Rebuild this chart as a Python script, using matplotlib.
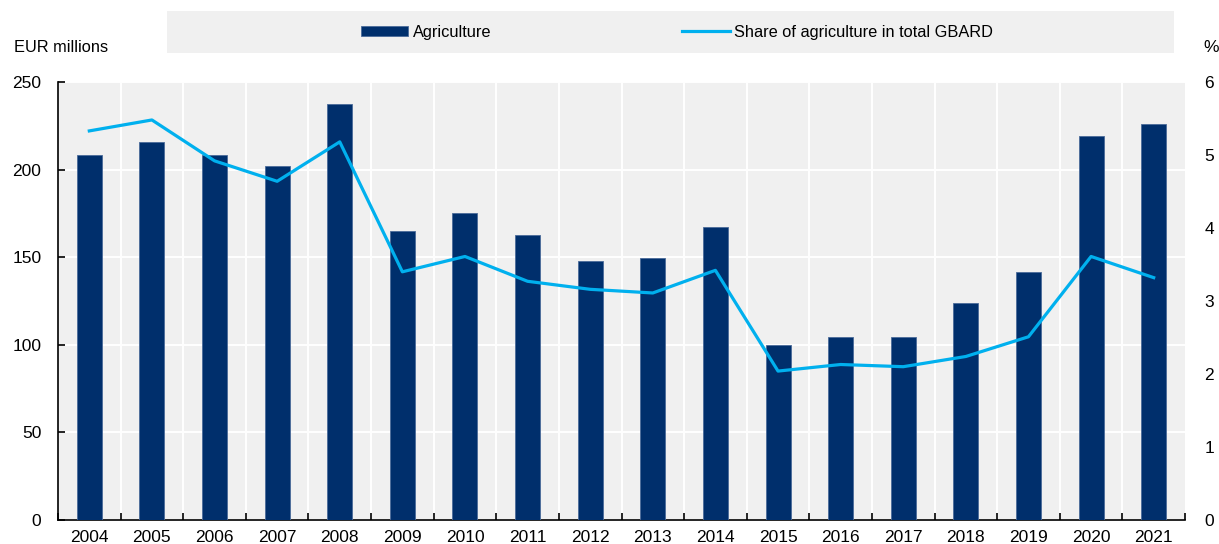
import matplotlib
matplotlib.use("Agg")
import matplotlib.pyplot as plt
from matplotlib.patches import Rectangle
import numpy as np

plt.rcParams["font.family"] = ["Liberation Sans", "DejaVu Sans"]

years = ["2004", "2005", "2006", "2007", "2008", "2009", "2010", "2011", "2012",
         "2013", "2014", "2015", "2016", "2017", "2018", "2019", "2020", "2021"]
agriculture = [208.3, 215.8, 208.3, 202.0, 237.4, 165.0, 175.2, 162.7, 147.8,
               149.4, 167.2, 99.7, 104.6, 104.2, 123.8, 141.6, 219.2, 225.9]
share_pct = [5.33, 5.48, 4.92, 4.64, 5.18, 3.40, 3.61, 3.27, 3.16,
             3.11, 3.42, 2.04, 2.13, 2.10, 2.24, 2.51, 3.61, 3.32]
left_ticks = [0, 50, 100, 150, 200, 250]
right_ticks = [0, 1, 2, 3, 4, 5, 6]

BAR = "#002F6C"
LINE = "#00B0EE"
PANEL = "#F0F0F0"
FS = 12.5      # tick labels
FS_TXT = 11.8  # legend and unit labels

W, H = 1219, 544
fig = plt.figure(figsize=(W / 100, H / 100), dpi=100)
ax = fig.add_axes([58 / W, 1 - 520 / H, (1185 - 58) / W, (520 - 82) / H])
ax2 = ax.twinx()

x = np.arange(len(years))
ax.set_facecolor(PANEL)
ax.bar(x, agriculture, width=0.40, color=BAR, edgecolor="#4A6A99",
       linewidth=0.6, zorder=3, label="Agriculture")
ax2.plot(x, share_pct, color=LINE, lw=2.3, zorder=4,
         label="Share of agriculture in total GBARD")

ax.set_xlim(-0.5, len(years) - 0.5)
ax.set_ylim(0, 250)
ax2.set_ylim(0, 6)
ax.set_yticks(left_ticks)
ax2.set_yticks(right_ticks)

# category boundaries carry the vertical grid and the x ticks
bounds = np.arange(-0.5, len(years), 1.0)
ax.set_xticks(x)
ax.set_xticklabels(years)
ax.set_xticks(bounds, minor=True)
ax.tick_params(axis="x", which="major", length=0, pad=7, labelsize=FS)
ax.tick_params(axis="x", which="minor", direction="in", length=5, width=1.2)
ax.tick_params(axis="y", direction="in", length=5, width=1.2, pad=12, labelsize=FS)
ax2.tick_params(axis="y", length=0, pad=14, labelsize=FS)

ax.grid(False)
for yv in left_ticks:
    ax.axhline(yv, color="white", lw=1.4, zorder=1)
for b in bounds[1:-1]:
    ax.axvline(b, color="white", lw=1.4, zorder=1)

for a in (ax, ax2):
    a.spines["top"].set_visible(False)
    a.spines["right"].set_visible(False)
ax2.spines["left"].set_visible(False)
ax2.spines["bottom"].set_visible(False)
ax.spines["left"].set_linewidth(1.2)
ax.spines["bottom"].set_linewidth(1.2)

fig.text(14 / W, 1 - 47 / H, "EUR millions", fontsize=FS_TXT, va="center", ha="left")
fig.text(1203 / W, 1 - 47 / H, "%", fontsize=FS, va="center", ha="left")

# legend band
fig.patches.append(Rectangle((167 / W, 1 - 53 / H), (1174 - 167) / W, 42 / H,
                             transform=fig.transFigure, facecolor=PANEL,
                             edgecolor="none", zorder=0))
h1, l1 = ax.get_legend_handles_labels()
h2, l2 = ax2.get_legend_handles_labels()
fig.legend(h1, l1, loc="center left", bbox_to_anchor=(361 / W, 1 - 32 / H),
           frameon=False, fontsize=FS_TXT, handlelength=2.85, handleheight=0.6,
           handletextpad=0.3, borderpad=0, borderaxespad=0)
fig.legend(h2, l2, loc="center left", bbox_to_anchor=(682 / W, 1 - 32 / H),
           frameon=False, fontsize=FS_TXT, handlelength=2.9,
           handletextpad=0.25, borderpad=0, borderaxespad=0)

fig.savefig("out.png", dpi=100)
